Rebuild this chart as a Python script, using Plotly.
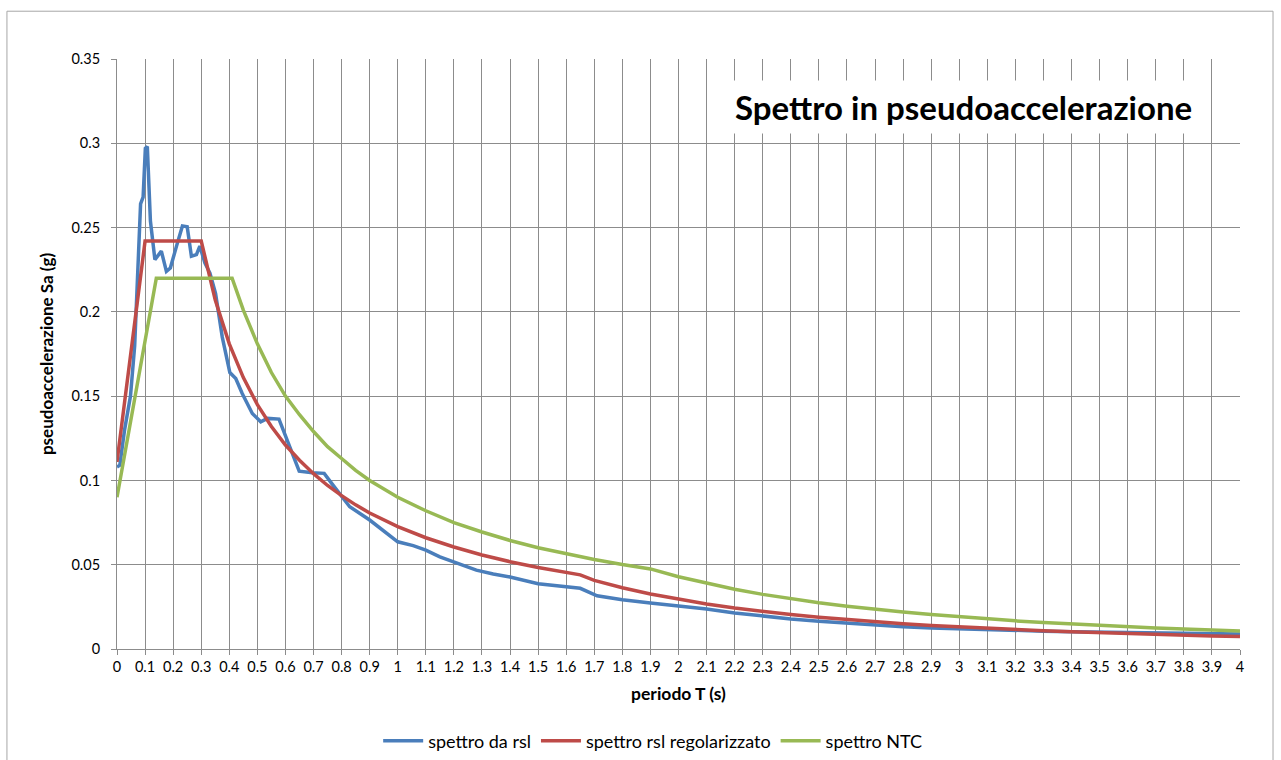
import plotly.graph_objects as go

# ---- data ----
blue_x = [0, 0.01, 0.027, 0.048, 0.063, 0.071, 0.079, 0.084, 0.093, 0.101, 0.108, 0.119, 0.135,
          0.158, 0.176, 0.19, 0.212, 0.233, 0.25, 0.265, 0.283, 0.295, 0.313, 0.331, 0.351, 0.375,
          0.402, 0.423, 0.446, 0.482, 0.512, 0.536, 0.577, 0.601, 0.625, 0.649, 0.696, 0.738,
          0.768, 0.829, 0.9, 0.948, 1.0, 1.055, 1.1, 1.15, 1.2, 1.28, 1.34, 1.4, 1.5, 1.6, 1.65,
          1.71, 1.8, 1.9, 2.0, 2.1, 2.2, 2.3, 2.4, 2.5, 2.6, 2.7, 2.8, 2.9, 3.0, 3.1, 3.2, 3.3,
          3.4, 3.5, 3.6, 3.7, 3.8, 3.9, 4.0]
blue_y = [0.108, 0.109, 0.130, 0.150, 0.180, 0.211, 0.249, 0.264, 0.268, 0.297, 0.298, 0.254, 0.231,
          0.236, 0.224, 0.226, 0.239, 0.251, 0.2505, 0.233, 0.234, 0.239, 0.229, 0.223, 0.211, 0.185,
          0.164, 0.1605, 0.1516, 0.1397, 0.1348, 0.1368, 0.1364, 0.126, 0.116, 0.1055, 0.1045, 0.1042,
          0.0975, 0.0844, 0.0765, 0.0705, 0.0636, 0.0613, 0.0587, 0.0547, 0.0518, 0.0468, 0.0445,
          0.0427, 0.0387, 0.0368, 0.036, 0.0316, 0.0292, 0.0273, 0.0257, 0.0237, 0.0214, 0.0195,
          0.0178, 0.0164, 0.0152, 0.0141, 0.0132, 0.0125, 0.0119, 0.0113, 0.0109, 0.0106, 0.0103,
          0.0101, 0.0099, 0.0097, 0.0094, 0.0091, 0.0089]

red_x = [0, 0.1, 0.3, 0.35, 0.4, 0.45, 0.5, 0.55, 0.6, 0.65, 0.7, 0.75, 0.8, 0.85, 0.9, 0.95,
         1.0, 1.1, 1.2, 1.3, 1.4, 1.5, 1.6, 1.65, 1.7, 1.8, 1.9, 2.0, 2.1, 2.2, 2.3, 2.4, 2.5,
         2.6, 2.7, 2.8, 2.9, 3.0, 3.1, 3.2, 3.3, 3.4, 3.5, 3.6, 3.7, 3.8, 3.9, 4.0]
red_y = [0.111, 0.242, 0.242, 0.207, 0.181, 0.161, 0.145, 0.132, 0.121, 0.112, 0.104, 0.097,
         0.091, 0.0855, 0.0807, 0.0764, 0.0726, 0.066, 0.0605, 0.0558, 0.0518, 0.0484, 0.0454,
         0.0440, 0.0407, 0.0363, 0.0326, 0.0294, 0.0267, 0.0243, 0.0222, 0.0204, 0.0188, 0.0174,
         0.0161, 0.0150, 0.0140, 0.0131, 0.0122, 0.0115, 0.0108, 0.0102, 0.0096, 0.0091, 0.0086,
         0.0081, 0.0077, 0.0074]

green_x = [0, 0.14, 0.41, 0.45, 0.5, 0.55, 0.6, 0.65, 0.7, 0.75, 0.8, 0.85, 0.9, 0.95, 1.0,
           1.1, 1.2, 1.3, 1.4, 1.5, 1.6, 1.7, 1.8, 1.9, 2.0, 2.1, 2.2, 2.3, 2.4, 2.5, 2.6, 2.7,
           2.8, 2.9, 3.0, 3.1, 3.2, 3.3, 3.4, 3.5, 3.6, 3.7, 3.8, 3.9, 4.0]
green_y = [0.09, 0.22, 0.22, 0.201, 0.181, 0.164, 0.150, 0.139, 0.129, 0.120, 0.113, 0.106,
           0.100, 0.095, 0.090, 0.082, 0.075, 0.0694, 0.0644, 0.0601, 0.0564, 0.0531, 0.0501,
           0.0475, 0.0429, 0.0389, 0.0354, 0.0324, 0.0298, 0.0274, 0.0254, 0.0235, 0.0219,
           0.0204, 0.0190, 0.0178, 0.0167, 0.0157, 0.0148, 0.0140, 0.0132, 0.0125, 0.0119,
           0.0113, 0.0107]

series_names = ["spettro da rsl", "spettro rsl regolarizzato", "spettro NTC"]
series_colors = ["#4A7EBB", "#BE4B48", "#98B954"]

x_tickvals = [i / 10 for i in range(41)]
x_ticktext = ["0", "0.1", "0.2", "0.3", "0.4", "0.5", "0.6", "0.7", "0.8", "0.9",
              "1", "1.1", "1.2", "1.3", "1.4", "1.5", "1.6", "1.7", "1.8", "1.9",
              "2", "2.1", "2.2", "2.3", "2.4", "2.5", "2.6", "2.7", "2.8", "2.9",
              "3", "3.1", "3.2", "3.3", "3.4", "3.5", "3.6", "3.7", "3.8", "3.9", "4"]
y_tickvals = [0, 0.05, 0.1, 0.15, 0.2, 0.25, 0.3, 0.35]
y_ticktext = ["0", "0.05", "0.1", "0.15", "0.2", "0.25", "0.3", "0.35"]

title_text = "Spettro in pseudoaccelerazione"
x_title = "periodo T (s)"
y_title = "pseudoaccelerazione Sa (g)"

FONT = "Lato, 'Open Sans', sans-serif"
GRID = "#8C8C8C"

fig = go.Figure()
for xs, ys, name, col in zip([blue_x, red_x, green_x], [blue_y, red_y, green_y],
                             series_names, series_colors):
    fig.add_trace(go.Scatter(x=xs, y=ys, mode="lines", name=name,
                             line=dict(color=col, width=3.5)))

fig.update_layout(
    width=1281, height=760,
    margin=dict(l=117, r=41, t=59, b=111, autoexpand=False),
    paper_bgcolor="white", plot_bgcolor="white",
    font=dict(family=FONT, size=15, color="#000000"),
    showlegend=True,
    legend=dict(orientation="h", x=0.477, xanchor="center", y=-0.156, yanchor="middle",
                font=dict(size=18), itemwidth=40, tracegroupgap=0),
    xaxis=dict(range=[0, 4], tickvals=x_tickvals, ticktext=x_ticktext,
               showgrid=True, gridcolor=GRID, gridwidth=1,
               showline=True, linecolor=GRID, linewidth=1,
               ticks="outside", ticklen=5, tickcolor=GRID,
               tickfont=dict(size=14.5), zeroline=False,
               title=dict(text="<b>" + x_title + "</b>", font=dict(size=17.5), standoff=13)),
    yaxis=dict(range=[0, 0.35], tickvals=y_tickvals, ticktext=y_ticktext,
               showgrid=True, gridcolor=GRID, gridwidth=1,
               showline=True, linecolor=GRID, linewidth=1,
               ticks="outside", ticklen=5, tickcolor=GRID,
               tickfont=dict(size=14.5), zeroline=False, ticklabelstandoff=8,
               title=dict(text="<b>" + y_title + "</b>", font=dict(size=17), standoff=13)),
    annotations=[dict(text="<b>" + title_text + "</b>", xref="paper", yref="paper",
                      x=0.754, y=0.919, xanchor="center", yanchor="middle",
                      showarrow=False, font=dict(size=33, color="#000000"),
                      bgcolor="white", borderpad=6)],
    shapes=[dict(type="rect", xref="paper", yref="paper",
                 x0=-0.098, x1=1.0294, y0=-0.25, y1=1.081,
                 line=dict(color="#A6A6A6", width=1), fillcolor="rgba(0,0,0,0)", layer="below")],
)

fig.write_html("out.html")
